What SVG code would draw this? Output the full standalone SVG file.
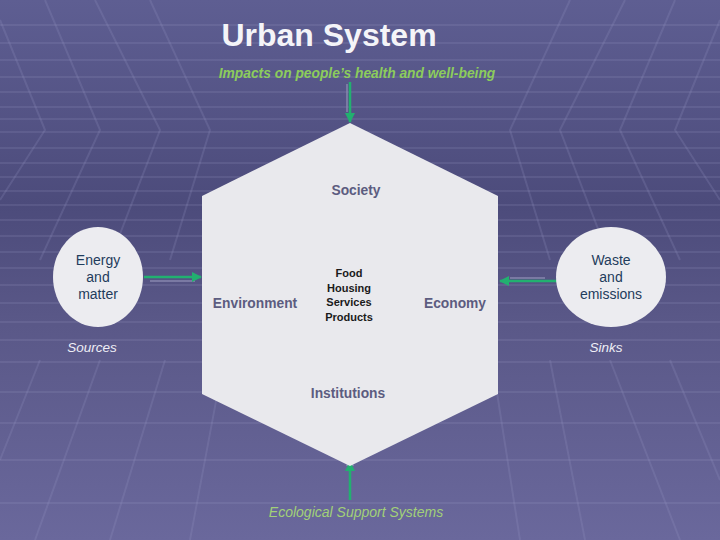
<svg xmlns="http://www.w3.org/2000/svg" width="720" height="540" viewBox="0 0 720 540">
  <defs>
    <linearGradient id="bg" x1="0" y1="0" x2="0" y2="1">
      <stop offset="0" stop-color="#5e5e92"/>
      <stop offset="0.38" stop-color="#4c4b7b"/>
      <stop offset="0.6" stop-color="#5a5888"/>
      <stop offset="1" stop-color="#6a689c"/>
    </linearGradient>
    <marker id="ah" viewBox="0 0 10 10" refX="9" refY="5" markerWidth="4" markerHeight="4" orient="auto">
      <path d="M0,0 L10,5 L0,10 Z" fill="#22b070"/>
    </marker>
    <style>
      .grid { stroke: #9a9ac8; stroke-opacity: 0.2; stroke-width: 2; fill: none; }
      .hline { stroke: #a8a8d4; stroke-opacity: 0.2; stroke-width: 1.5; }
      .conn { stroke: #22b070; stroke-width: 2.5; fill: none; marker-end: url(#ah); }
      .shadow { stroke: #8a8ab0; stroke-width: 2; fill: none; opacity: 0.7; }
      .sec { font-family: "Liberation Sans", Arial, sans-serif; font-size: 13.8px; font-weight: bold; fill: #5c5c80; text-anchor: middle; }
      .core { font-family: "Liberation Sans", Arial, sans-serif; font-size: 11px; font-weight: bold; fill: #1a1a1a; text-anchor: middle; }
      .circ { font-family: "Liberation Sans", Arial, sans-serif; font-size: 14px; fill: #1f3c5c; text-anchor: middle; }
      .lbl { font-family: "Liberation Sans", Arial, sans-serif; font-size: 13.5px; font-style: italic; fill: #eeeef6; text-anchor: middle; }
    </style>
  </defs>

  <!-- background -->
  <rect width="720" height="540" fill="url(#bg)"/>
  <g id="bg-grid">
    <g class="hline">
      <line x1="0" y1="25" x2="720" y2="25"/>
      <line x1="0" y1="43" x2="720" y2="43"/>
      <line x1="0" y1="60" x2="720" y2="60"/>
      <line x1="0" y1="77" x2="720" y2="77"/>
      <line x1="0" y1="92" x2="720" y2="92"/>
      <line x1="0" y1="107" x2="720" y2="107"/>
      <line x1="0" y1="119" x2="720" y2="119"/>
      <line x1="0" y1="132" x2="720" y2="132"/>
      <line x1="0" y1="148" x2="720" y2="148"/>
      <line x1="0" y1="163" x2="720" y2="163"/>
      <line x1="0" y1="177" x2="720" y2="177"/>
      <line x1="0" y1="191" x2="720" y2="191"/>
      <line x1="0" y1="205" x2="720" y2="205"/>
      <line x1="0" y1="220" x2="720" y2="220"/>
      <line x1="0" y1="236" x2="720" y2="236"/>
      <line x1="0" y1="252" x2="720" y2="252"/>
      <line x1="0" y1="268" x2="720" y2="268"/>
      <line x1="0" y1="285" x2="720" y2="285"/>
      <line x1="0" y1="303" x2="720" y2="303"/>
      <line x1="0" y1="322" x2="720" y2="322"/>
      <line x1="0" y1="340" x2="720" y2="340"/>
      <line x1="0" y1="362" x2="720" y2="362"/>
      <line x1="0" y1="392" x2="720" y2="392"/>
      <line x1="0" y1="423" x2="720" y2="423"/>
      <line x1="0" y1="460" x2="720" y2="460"/>
      <line x1="0" y1="503" x2="720" y2="503"/>
    </g>
    <g class="grid">
      <polyline points="0,20 45,130 0,200"/>
      <polyline points="45,0 100,130 40,260"/>
      <polyline points="95,0 160,130 110,260"/>
      <polyline points="150,0 210,130 170,260"/>
      <line x1="40" y1="360" x2="0" y2="460"/>
      <line x1="100" y1="360" x2="35" y2="540"/>
      <line x1="165" y1="360" x2="110" y2="540"/>
      <line x1="220" y1="380" x2="190" y2="540"/>
      <polyline points="720,20 675,130 720,200"/>
      <polyline points="675,0 620,130 680,260"/>
      <polyline points="625,0 560,130 610,260"/>
      <polyline points="570,0 510,130 550,260"/>
      <line x1="550" y1="360" x2="585" y2="540"/>
      <line x1="610" y1="360" x2="680" y2="540"/>
      <line x1="670" y1="360" x2="720" y2="480"/>
      <line x1="495" y1="380" x2="520" y2="540"/>
    </g>
  </g>

  <!-- title -->
  <text id="title" x="329" y="46" font-family="Liberation Sans, Arial, sans-serif" font-size="32" font-weight="bold" fill="#f4f4f8" text-anchor="middle">Urban System</text>

  <!-- connectors -->
  <g id="connectors">
    <line class="shadow" x1="347" y1="84" x2="347" y2="112"/>
    <line class="conn" x1="350" y1="82" x2="350" y2="122"/>
    <line class="shadow" x1="150" y1="281" x2="195" y2="281"/>
    <line class="conn" x1="144" y1="277" x2="201" y2="277"/>
    <line class="shadow" x1="510" y1="278" x2="545" y2="278"/>
    <line class="conn" x1="557" y1="281" x2="500" y2="281"/>
    <path d="M350,457 L346,466 L354,466 Z" fill="#8a8ab0"/>
    <line class="conn" x1="350" y1="500" x2="350" y2="462"/>
  </g>

  <!-- hexagon -->
  <g id="urban-hexagon">
    <polygon points="350,123 498,196 498,394 350,466 202,394 202,196" fill="#e9e9ed"/>
    <text class="sec" x="356" y="195">Society</text>
    <text class="sec" x="255" y="308">Environment</text>
    <text class="sec" x="455" y="308">Economy</text>
    <text class="sec" x="348" y="398">Institutions</text>
  </g>

  <g id="core-flows">
    <text class="core" x="349" y="277">Food</text>
    <text class="core" x="349" y="292">Housing</text>
    <text class="core" x="349" y="306">Services</text>
    <text class="core" x="349" y="321">Products</text>
  </g>

  <!-- sources -->
  <g id="energy-matter">
    <ellipse cx="98" cy="277" rx="45" ry="50" fill="#ececf0"/>
    <text class="circ" x="98" y="265">Energy</text>
    <text class="circ" x="98" y="282">and</text>
    <text class="circ" x="98" y="299">matter</text>
  </g>
  <text id="sources" class="lbl" x="92" y="352">Sources</text>

  <!-- sinks -->
  <g id="waste-emissions">
    <ellipse cx="611" cy="277" rx="55" ry="50" fill="#ececf0"/>
    <text class="circ" x="611" y="265">Waste</text>
    <text class="circ" x="611" y="282">and</text>
    <text class="circ" x="611" y="299">emissions</text>
  </g>
  <text id="sinks" class="lbl" x="606" y="352">Sinks</text>

  <!-- impacts -->
  <text id="impacts" x="357" y="78" font-family="Liberation Sans, Arial, sans-serif" font-size="13.8" font-weight="bold" font-style="italic" fill="#8ccc5c" text-anchor="middle">Impacts on people’s health and well-being</text>

  <!-- ecological -->
  <text id="ecological" x="356" y="517" font-family="Liberation Sans, Arial, sans-serif" font-size="14" font-style="italic" fill="#a2d078" text-anchor="middle">Ecological Support Systems</text>
</svg>
